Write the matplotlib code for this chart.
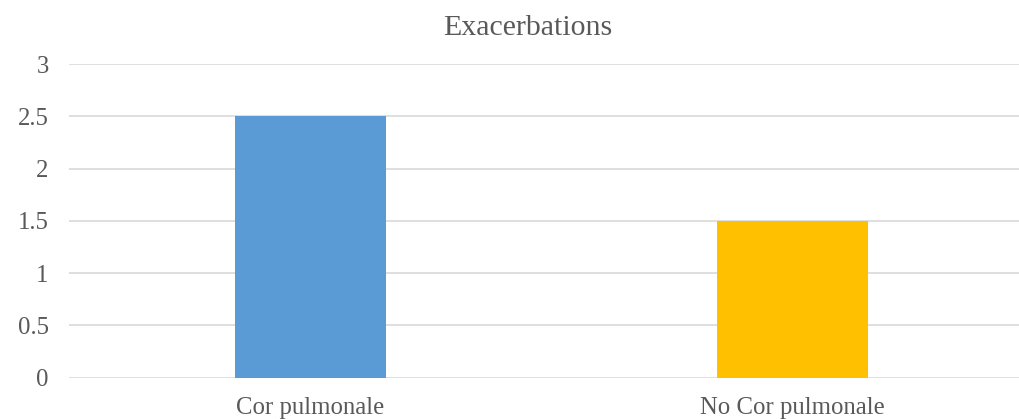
# -*- coding: utf-8 -*-
"""
Exacerbations bar chart
"""

import matplotlib.pyplot as plt
import numpy as np

categories = ['Cor pulmonale', 'No Cor pulmonale']
values = [2.5, 1.5]
bar_colors = ['#5b9bd5', '#ffc000']
yticks = [0, 0.5, 1, 1.5, 2, 2.5, 3]
ytick_labels = ['0', '0.5', '1', '1.5', '2', '2.5', '3']

plt.rcParams['font.family'] = ['Liberation Serif', 'DejaVu Serif']

W, H = 1020, 419
fig = plt.figure(figsize=(W / 100, H / 100), dpi=100)
# axis runs past the right edge, like the cropped original
ax = fig.add_axes([69.5 / W, 41.3 / H, 964 / W, 313.7 / H])

x = np.arange(len(categories))
ax.bar(x, values, width=0.313, color=bar_colors, zorder=3)

ax.set_xlim(-0.5, len(categories) - 0.5)
ax.set_ylim(0, 3)
ax.set_yticks(yticks)
ax.set_yticklabels(ytick_labels)
ax.set_xticks(x)
ax.set_xticklabels(categories)

ax.grid(axis='y', color='#d9d9d9', linewidth=1.2, zorder=0)
ax.tick_params(axis='both', length=0, labelsize=17.8, labelcolor='#595959')
ax.tick_params(axis='y', pad=15)
ax.tick_params(axis='x', pad=14)
for s in ax.spines.values():
    s.set_visible(False)

fig.text(528 / W, (H - 35) / H, 'Exacerbations', ha='center', va='baseline',
         fontsize=21.5, color='#595959')

plt.savefig('out.png', dpi=100)
